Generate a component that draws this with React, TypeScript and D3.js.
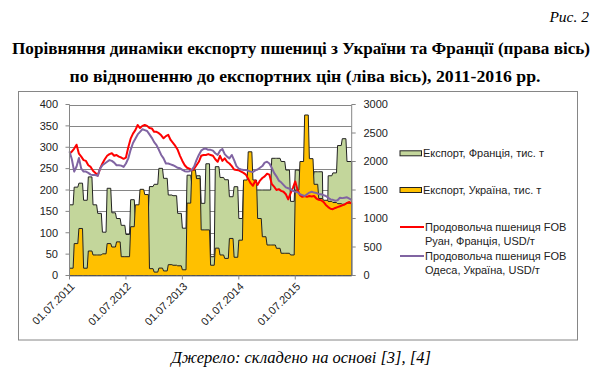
import React from "react";
import * as d3 from "d3";

// Monthly exports, thousand tonnes (Jul 2011 .. Jun 2016), right axis
const exportFrance = [
  1240, 1550, 1620, 1320, 1730, 1240, 1090, 760, 1530, 1100, 1000, 880,
  720, 1330, 1000, 1100, 1150, 1560, 1600, 1880, 1705, 1412, 1400, 1090,
  830, 1760, 1600, 1750, 1266, 1960, 330, 1909, 1720, 1680, 1382, 1558,
  1000, 1600, 1500, 1500, 1500, 1500, 1500, 2056, 2056, 2000, 1850, 1300,
  1850, 1800, 1700, 1700, 1820, 1820, 447, 1750, 1800, 2280, 2400, 2000,
];
const exportUkraine = [
  128, 560, 825, 128, 430, 360, 360, 380, 560, 500, 590, 330,
  330, 856, 1240, 1512, 1420, 120, 60, 130, 80, 190, 180, 170,
  100, 1270, 1850, 1700, 800, 800, 180, 480, 360, 300, 650, 320,
  620, 1675, 2170, 1675, 1000, 680, 535, 535, 477, 390, 390, 360,
  1500, 2000, 2816, 2050, 1600, 1350, 1320, 1300, 1280, 1260, 1250, 1270,
];
// Half-monthly prices, USD/t, left axis
const priceRouen = [
  285, 290, 297, 306, 285, 278, 270, 268, 258, 254, 245, 240, 234, 250, 262, 272,
  280, 284, 286, 280, 282, 278, 276, 273, 276, 300, 320, 332, 340, 352, 345, 350,
  352, 350, 345, 344, 336, 336, 333, 328, 321, 326, 329, 317, 310, 303, 294, 280,
  268, 258, 252, 250, 246, 250, 258, 266, 280, 282, 282, 284, 282, 280, 272, 266,
  280, 268, 274, 266, 262, 256, 248, 247, 246, 243, 240, 236, 226, 216, 210, 222,
  212, 222, 228, 232, 238, 236, 214, 208, 200, 202, 198, 196, 190, 178, 192, 205,
  220, 200, 188, 184, 186, 184, 186, 185, 186, 180, 177, 176, 172, 165, 160, 156,
  155, 158, 160, 162, 164, 166, 170, 172, 168,
];
const priceOdesa = [
  290, 272, 243, 255, 275, 250, 243, 243, 240, 236, 235, 235, 233, 250, 258, 262,
  266, 270, 268, 264, 258, 258, 257, 254, 262, 274, 294, 310, 320, 330, 336, 342,
  340, 338, 330, 322, 312, 305, 294, 282, 274, 262, 262, 260, 258, 255, 252, 251,
  247, 244, 243, 244, 247, 255, 270, 282, 292, 296, 297, 294, 294, 292, 286, 282,
  292, 296, 284, 278, 274, 282, 270, 256, 250, 248, 247, 247, 245, 243, 242, 246,
  248, 252, 256, 264, 266, 262, 252, 240, 232, 222, 218, 212, 206, 204, 202, 198,
  196, 195, 190, 188, 186, 190, 194, 196, 194, 193, 190, 190, 188, 186, 182, 178,
  177, 175, 176, 182, 181, 182, 183, 180, 176,
];
const xTickMonths = [0, 12, 24, 36, 48];
const xTickLabels = ["01.07.2011", "01.07.2012", "01.07.2013", "01.07.2014", "01.07.2015"];
const leftTicks = [0, 50, 100, 150, 200, 250, 300, 350, 400];
const rightTicks = [0, 500, 1000, 1500, 2000, 2500, 3000];

const legendItems = [
  { kind: "area", color: "#c3d69b", lines: ["Експорт, Франція, тис. т"] },
  { kind: "area", color: "#ffc000", lines: ["Експорт, Україна, тис. т"] },
  { kind: "line", color: "#ff0000", lines: ["Продовольча пшениця FOB", "Руан, Франція, USD/т"] },
  { kind: "line", color: "#8064a2", lines: ["Продовольча пшениця FOB", "Одеса, Україна, USD/т"] },
];

const W = 602, H = 378;
const L = 69.5, R = 351.7, T = 104.5, B = 275.5;
const FONT = "'Liberation Sans', Arial, sans-serif";
const SERIF = "'Liberation Serif', 'Times New Roman', serif";

export default function App() {
  const xm = d3.scaleLinear().domain([0, 60]).range([L, R]);
  const xp = d3.scaleLinear().domain([0, 120]).range([L, R]);
  const yL = d3.scaleLinear().domain([0, 400]).range([B, T]);
  const yR = d3.scaleLinear().domain([0, 3000]).range([B, T]);

  const stepPts = (vals: number[]) => {
    const pts: [number, number][] = [];
    vals.forEach((v, i) => {
      pts.push([i, v]);
      pts.push([i === vals.length - 1 ? i + 1 : i + 0.77, v]);
    });
    return pts;
  };
  const area = d3
    .area<[number, number]>()
    .x((d) => xm(d[0]))
    .y0(yR(0))
    .y1((d) => yR(d[1]));
  const line = d3
    .line<number>()
    .x((_, i) => xp(i))
    .y((d) => yL(d));

  const grid = "#868686";
  const txt = "#222";
  const legX = 400;
  const legY = [153.3, 190, 227, 256];

  return (
    <svg width={W} height={H} style={{ position: "absolute", left: 0, top: 0, display: "block", background: "#fff" }}>
      <rect x={0} y={0} width={W} height={H} fill="#fff" />
      <text x={589} y={22} textAnchor="end" fontFamily={SERIF} fontStyle="italic" fontSize={15.5} fill="#000">
        Рис. 2
      </text>
      <text x={301} y={54} textAnchor="middle" fontFamily={SERIF} fontWeight="bold" fontSize={16.5} fill="#000"
        textLength={578} lengthAdjust="spacingAndGlyphs">
        Порівняння динаміки експорту пшениці з України та Франції (права вісь)
      </text>
      <text x={305} y={82} textAnchor="middle" fontFamily={SERIF} fontWeight="bold" fontSize={16.5} fill="#000"
        textLength={471} lengthAdjust="spacingAndGlyphs">
        по відношенню до експортних цін (ліва вісь), 2011-2016 рр.
      </text>

      <rect x={18.5} y={91.5} width={559} height={248.5} fill="#fff" stroke={grid} strokeWidth={1} />

      {leftTicks.filter((t) => t > 0).map((t) => (
        <line key={"g" + t} x1={L} x2={R} y1={Math.round(yL(t)) + 0.5} y2={Math.round(yL(t)) + 0.5} stroke={grid} strokeWidth={1} />
      ))}

      <path d={area(stepPts(exportFrance)) || ""} fill="#c3d69b" stroke="#222" strokeWidth={1} />
      <path d={area(stepPts(exportUkraine)) || ""} fill="#ffc000" stroke="#222" strokeWidth={1} />
      <path d={line(priceRouen) || ""} fill="none" stroke="#ff0000" strokeWidth={2} strokeLinejoin="round" />
      <path d={line(priceOdesa) || ""} fill="none" stroke="#8064a2" strokeWidth={2} strokeLinejoin="round" />

      {/* axes */}
      <line x1={L} x2={L} y1={T} y2={B} stroke={grid} />
      <line x1={R} x2={R} y1={T} y2={B} stroke={grid} />
      <line x1={L} x2={R} y1={B + 0.5} y2={B + 0.5} stroke={grid} />
      {leftTicks.map((t) => (
        <g key={"l" + t}>
          <line x1={L - 4} x2={L} y1={yL(t)} y2={yL(t)} stroke={grid} />
          <text x={58} y={yL(t)} dy="0.35em" textAnchor="end" fontFamily={FONT} fontSize={11} fill={txt}>
            {t}
          </text>
        </g>
      ))}
      {rightTicks.map((t) => (
        <g key={"r" + t}>
          <line x1={R} x2={R + 4} y1={yR(t)} y2={yR(t)} stroke={grid} />
          <text x={363.5} y={yR(t)} dy="0.35em" textAnchor="start" fontFamily={FONT} fontSize={11} fill={txt}>
            {t}
          </text>
        </g>
      ))}
      {xTickMonths.map((m, i) => (
        <g key={"x" + m}>
          <line x1={xm(m)} x2={xm(m)} y1={B} y2={B + 4} stroke={grid} />
          <text
            transform={`translate(${xm(m) + 3},${B + 9}) rotate(-45)`}
            dy="0.35em"
            textAnchor="end"
            fontFamily={FONT}
            fontSize={11}
            fill={txt}
          >
            {xTickLabels[i]}
          </text>
        </g>
      ))}

      {/* legend */}
      {legendItems.map((it, i) => (
        <g key={"lg" + i}>
          {it.kind === "area" ? (
            <rect x={legX} y={legY[i] - 2.5} width={21.5} height={5} fill={it.color} stroke="#222" strokeWidth={1} />
          ) : (
            <line x1={legX} x2={legX + 24} y1={legY[i]} y2={legY[i]} stroke={it.color} strokeWidth={2} />
          )}
          {it.lines.map((ln, j) => (
            <text key={j} x={it.kind === "area" ? 423 : 425} y={legY[i] + j * 14} dy="0.35em" fontFamily={FONT} fontSize={11} fill={txt}>
              {ln}
            </text>
          ))}
        </g>
      ))}

      <text x={301} y={363} textAnchor="middle" fontFamily={SERIF} fontStyle="italic" fontSize={16.5} fill="#000">
        Джерело: складено на основі [3], [4]
      </text>
    </svg>
  );
}
